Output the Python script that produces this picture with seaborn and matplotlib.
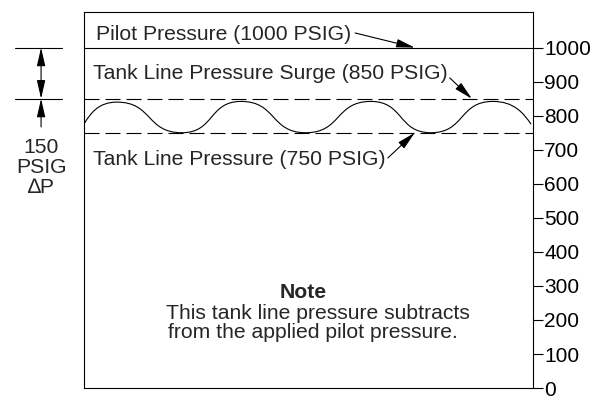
import matplotlib
matplotlib.use("Agg")
import matplotlib.pyplot as plt
import matplotlib.transforms as mtransforms
from matplotlib.path import Path
from matplotlib.patches import PathPatch
import seaborn as sns
import pandas as pd

# pressure levels drawn across the chart (psig)
level_names = ["Pilot Pressure", "Tank Line Pressure Surge", "Tank Line Pressure"]
level_psig = [1000, 850, 750]
level_dashed = [False, True, True]

# surging tank line pressure, turning points
wave_x = [0.0, 0.73, 2.18, 3.50, 4.94, 6.39, 7.73, 9.11, 9.96]
wave_psig = [776, 840, 750, 842, 750, 842, 750, 842, 775]

y_ticks = [0, 100, 200, 300, 400, 500, 600, 700, 800, 900, 1000]

sns.set_style("white")
plt.rcParams["font.family"] = ["Liberation Sans", "DejaVu Sans"]

fig = plt.figure(figsize=(5.92, 3.96), dpi=100)
ax = fig.add_axes([0.142, 0.020, 0.758, 0.950])

# horizontal pressure lines
for name, p, dashed in zip(level_names, level_psig, level_dashed):
    df = pd.DataFrame({"x": [0, 10], "psig": [p, p]})
    sns.lineplot(data=df, x="x", y="psig", ax=ax, color="black", linewidth=0.8)
    if dashed:
        ax.lines[-1].set_dashes((13.5, 5.4))

# the surge wave, smooth arcs between turning points
k = 0.55
verts = [(wave_x[0], wave_psig[0])]
codes = [Path.MOVETO]
n = len(wave_x)
for i in range(n - 1):
    x0, y0 = wave_x[i], wave_psig[i]
    x1, y1 = wave_x[i + 1], wave_psig[i + 1]
    dx = x1 - x0
    if i == 0:
        c1 = (x0 + 0.2 * dx, y0 + 0.5 * (y1 - y0))
    else:
        c1 = (x0 + k * dx, y0)
    if i == n - 2:
        c2 = (x1 - 0.2 * dx, y1 + 0.5 * (y0 - y1))
    else:
        c2 = (x1 - k * dx, y1)
    verts += [c1, c2, (x1, y1)]
    codes += [Path.CURVE4] * 3
ax.add_patch(PathPatch(Path(verts, codes), facecolor="none", edgecolor="black", lw=0.8))

ax.set_xlim(0, 10)
ax.set_ylim(0, 1105)
ax.set_xticks([])
ax.set_xlabel("")
ax.set_ylabel("")
ax.yaxis.tick_right()
ax.set_yticks(y_ticks)
ax.set_yticklabels([str(t) for t in y_ticks])
ax.tick_params(axis="y", direction="out", length=7.2, width=0.8, pad=1,
               labelsize=15, colors="black", right=True)
for s in ax.spines.values():
    s.set_color("black")
    s.set_linewidth(0.8)

fs = 15.2
head = "head_length=0.7,head_width=0.16"
arrow = dict(arrowstyle="-|>," + head, color="black",
             lw=0.8, shrinkA=0, shrinkB=0, mutation_scale=16)

ax.text(0.27, 1040, "Pilot Pressure (1000 PSIG)", fontsize=fs, va="center", ha="left")
ax.annotate("", xy=(7.37, 1000), xytext=(6.04, 1043), arrowprops=arrow)

ax.text(0.20, 923, "Tank Line Pressure Surge (850 PSIG)", fontsize=fs, va="center", ha="left")
ax.annotate("", xy=(8.64, 850), xytext=(8.15, 911), arrowprops=arrow)

ax.text(0.20, 670, "Tank Line Pressure (750 PSIG)", fontsize=fs, va="center", ha="left")
ax.annotate("", xy=(7.37, 750), xytext=(6.77, 676), arrowprops=arrow)

ax.text(4.88, 282, "Note", fontsize=fs, fontweight="bold", ha="center", va="center")
ax.text(1.83, 220, "This tank line pressure subtracts", fontsize=fs, ha="left", va="center")
ax.text(1.87, 162, "from the applied pilot pressure.", fontsize=fs, ha="left", va="center")

# pressure difference marker left of the chart
trans = mtransforms.blended_transform_factory(ax.transAxes, ax.transData)
for p in level_psig[:2]:
    ax.plot([-0.1537, -0.049], [p, p], color="black", lw=0.8, transform=trans, clip_on=False)
ax.annotate("", xy=(-0.0958, 1000), xytext=(-0.0958, 850), xycoords=trans, textcoords=trans,
            arrowprops=dict(arrow, arrowstyle="<|-|>," + head),
            annotation_clip=False)
ax.annotate("", xy=(-0.0958, 850), xytext=(-0.0958, 767), xycoords=trans, textcoords=trans,
            arrowprops=arrow, annotation_clip=False)
for label, y in zip(["150", "PSIG", "\u2206P"], [708, 649, 590]):
    ax.text(-0.0958, y, label, transform=trans, fontsize=fs, ha="center", va="center")

fig.savefig("out.png", dpi=100)
